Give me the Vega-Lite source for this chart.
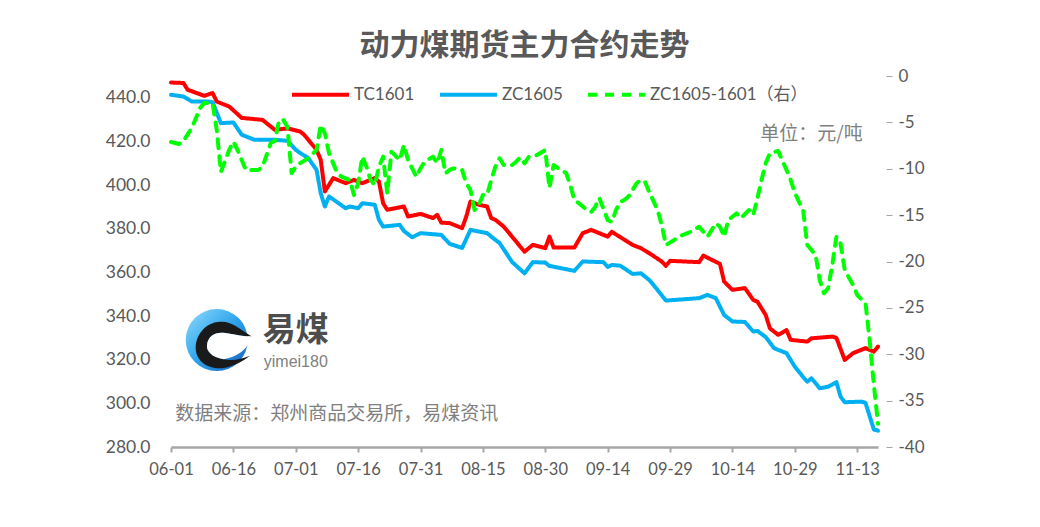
{
  "$schema": "https://vega.github.io/schema/vega-lite/v6.json",
  "width": 707,
  "height": 371,
  "autosize": {"type": "none"},
  "padding": {"left": 171, "top": 76, "right": 162, "bottom": 80},
  "background": "white",
  "config": {
    "view": {"stroke": null},
    "font": "Lato",
    "axis": {"grid": false, "title": null, "labelFont": "Lato", "labelColor": "#595959", "labelFontSize": 17},
    "legend": {"labelFont": "Lato, 'Noto Sans CJK SC'"}
  },
  "title": {
    "text": "动力煤期货主力合约走势",
    "font": "Noto Sans CJK SC",
    "fontSize": 30,
    "fontWeight": "bold",
    "color": "#595959",
    "anchor": "middle",
    "offset": 3
  },
  "datasets": {
    "price": [
      {"date": "2015/06/01", "series": "TC1601", "value": 447.0},
      {"date": "2015/06/04", "series": "TC1601", "value": 446.8},
      {"date": "2015/06/05", "series": "TC1601", "value": 443.7},
      {"date": "2015/06/09", "series": "TC1601", "value": 440.9},
      {"date": "2015/06/11", "series": "TC1601", "value": 442.2},
      {"date": "2015/06/12", "series": "TC1601", "value": 438.3},
      {"date": "2015/06/15", "series": "TC1601", "value": 436.0},
      {"date": "2015/06/18", "series": "TC1601", "value": 430.8},
      {"date": "2015/06/23", "series": "TC1601", "value": 429.9},
      {"date": "2015/06/26", "series": "TC1601", "value": 425.3},
      {"date": "2015/06/29", "series": "TC1601", "value": 426.0},
      {"date": "2015/07/02", "series": "TC1601", "value": 424.6},
      {"date": "2015/07/03", "series": "TC1601", "value": 423.1},
      {"date": "2015/07/06", "series": "TC1601", "value": 416.2},
      {"date": "2015/07/07", "series": "TC1601", "value": 411.6},
      {"date": "2015/07/08", "series": "TC1601", "value": 397.1},
      {"date": "2015/07/10", "series": "TC1601", "value": 403.2},
      {"date": "2015/07/13", "series": "TC1601", "value": 400.9},
      {"date": "2015/07/15", "series": "TC1601", "value": 402.4},
      {"date": "2015/07/17", "series": "TC1601", "value": 400.9},
      {"date": "2015/07/20", "series": "TC1601", "value": 403.2},
      {"date": "2015/07/21", "series": "TC1601", "value": 401.6},
      {"date": "2015/07/22", "series": "TC1601", "value": 391.7},
      {"date": "2015/07/23", "series": "TC1601", "value": 388.7},
      {"date": "2015/07/27", "series": "TC1601", "value": 390.2},
      {"date": "2015/07/28", "series": "TC1601", "value": 385.6},
      {"date": "2015/07/31", "series": "TC1601", "value": 386.8},
      {"date": "2015/08/03", "series": "TC1601", "value": 384.9},
      {"date": "2015/08/04", "series": "TC1601", "value": 386.4},
      {"date": "2015/08/05", "series": "TC1601", "value": 382.8},
      {"date": "2015/08/07", "series": "TC1601", "value": 382.6},
      {"date": "2015/08/10", "series": "TC1601", "value": 380.3},
      {"date": "2015/08/11", "series": "TC1601", "value": 385.6},
      {"date": "2015/08/12", "series": "TC1601", "value": 392.5},
      {"date": "2015/08/14", "series": "TC1601", "value": 391.0},
      {"date": "2015/08/16", "series": "TC1601", "value": 390.2},
      {"date": "2015/08/17", "series": "TC1601", "value": 384.9},
      {"date": "2015/08/18", "series": "TC1601", "value": 384.1},
      {"date": "2015/08/20", "series": "TC1601", "value": 381.0},
      {"date": "2015/08/23", "series": "TC1601", "value": 374.1},
      {"date": "2015/08/25", "series": "TC1601", "value": 369.5},
      {"date": "2015/08/27", "series": "TC1601", "value": 372.6},
      {"date": "2015/08/30", "series": "TC1601", "value": 371.1},
      {"date": "2015/08/31", "series": "TC1601", "value": 376.4},
      {"date": "2015/09/01", "series": "TC1601", "value": 371.4},
      {"date": "2015/09/06", "series": "TC1601", "value": 371.4},
      {"date": "2015/09/08", "series": "TC1601", "value": 378.0},
      {"date": "2015/09/09", "series": "TC1601", "value": 378.7},
      {"date": "2015/09/10", "series": "TC1601", "value": 379.5},
      {"date": "2015/09/14", "series": "TC1601", "value": 376.4},
      {"date": "2015/09/15", "series": "TC1601", "value": 378.6},
      {"date": "2015/09/20", "series": "TC1601", "value": 372.6},
      {"date": "2015/09/22", "series": "TC1601", "value": 371.1},
      {"date": "2015/09/24", "series": "TC1601", "value": 368.8},
      {"date": "2015/09/27", "series": "TC1601", "value": 365.0},
      {"date": "2015/09/28", "series": "TC1601", "value": 363.0},
      {"date": "2015/09/29", "series": "TC1601", "value": 365.3},
      {"date": "2015/10/06", "series": "TC1601", "value": 364.7},
      {"date": "2015/10/07", "series": "TC1601", "value": 367.7},
      {"date": "2015/10/11", "series": "TC1601", "value": 363.9},
      {"date": "2015/10/12", "series": "TC1601", "value": 355.8},
      {"date": "2015/10/14", "series": "TC1601", "value": 352.0},
      {"date": "2015/10/17", "series": "TC1601", "value": 352.8},
      {"date": "2015/10/19", "series": "TC1601", "value": 347.4},
      {"date": "2015/10/20", "series": "TC1601", "value": 346.6},
      {"date": "2015/10/22", "series": "TC1601", "value": 340.5},
      {"date": "2015/10/23", "series": "TC1601", "value": 334.4},
      {"date": "2015/10/25", "series": "TC1601", "value": 331.4},
      {"date": "2015/10/27", "series": "TC1601", "value": 333.6},
      {"date": "2015/10/28", "series": "TC1601", "value": 329.1},
      {"date": "2015/11/01", "series": "TC1601", "value": 328.3},
      {"date": "2015/11/02", "series": "TC1601", "value": 329.8},
      {"date": "2015/11/07", "series": "TC1601", "value": 330.6},
      {"date": "2015/11/08", "series": "TC1601", "value": 330.0},
      {"date": "2015/11/10", "series": "TC1601", "value": 319.9},
      {"date": "2015/11/12", "series": "TC1601", "value": 323.0},
      {"date": "2015/11/15", "series": "TC1601", "value": 325.3},
      {"date": "2015/11/17", "series": "TC1601", "value": 323.7},
      {"date": "2015/11/18", "series": "TC1601", "value": 326.0},
      {"date": "2015/06/01", "series": "ZC1605", "value": 441.4},
      {"date": "2015/06/04", "series": "ZC1605", "value": 440.6},
      {"date": "2015/06/06", "series": "ZC1605", "value": 438.3},
      {"date": "2015/06/10", "series": "ZC1605", "value": 438.3},
      {"date": "2015/06/11", "series": "ZC1605", "value": 438.0},
      {"date": "2015/06/13", "series": "ZC1605", "value": 428.4},
      {"date": "2015/06/16", "series": "ZC1605", "value": 428.7},
      {"date": "2015/06/18", "series": "ZC1605", "value": 423.1},
      {"date": "2015/06/21", "series": "ZC1605", "value": 420.8},
      {"date": "2015/06/26", "series": "ZC1605", "value": 420.8},
      {"date": "2015/06/29", "series": "ZC1605", "value": 420.3},
      {"date": "2015/07/01", "series": "ZC1605", "value": 416.2},
      {"date": "2015/07/02", "series": "ZC1605", "value": 414.8},
      {"date": "2015/07/04", "series": "ZC1605", "value": 412.4},
      {"date": "2015/07/06", "series": "ZC1605", "value": 407.0},
      {"date": "2015/07/07", "series": "ZC1605", "value": 396.3},
      {"date": "2015/07/08", "series": "ZC1605", "value": 390.2},
      {"date": "2015/07/09", "series": "ZC1605", "value": 394.8},
      {"date": "2015/07/13", "series": "ZC1605", "value": 389.4},
      {"date": "2015/07/14", "series": "ZC1605", "value": 390.2},
      {"date": "2015/07/16", "series": "ZC1605", "value": 389.4},
      {"date": "2015/07/17", "series": "ZC1605", "value": 391.7},
      {"date": "2015/07/20", "series": "ZC1605", "value": 391.0},
      {"date": "2015/07/21", "series": "ZC1605", "value": 384.1},
      {"date": "2015/07/22", "series": "ZC1605", "value": 381.0},
      {"date": "2015/07/26", "series": "ZC1605", "value": 381.8},
      {"date": "2015/07/27", "series": "ZC1605", "value": 379.0},
      {"date": "2015/07/29", "series": "ZC1605", "value": 376.1},
      {"date": "2015/07/31", "series": "ZC1605", "value": 378.0},
      {"date": "2015/08/05", "series": "ZC1605", "value": 377.2},
      {"date": "2015/08/07", "series": "ZC1605", "value": 373.1},
      {"date": "2015/08/10", "series": "ZC1605", "value": 371.2},
      {"date": "2015/08/12", "series": "ZC1605", "value": 379.5},
      {"date": "2015/08/16", "series": "ZC1605", "value": 378.0},
      {"date": "2015/08/18", "series": "ZC1605", "value": 374.9},
      {"date": "2015/08/19", "series": "ZC1605", "value": 373.5},
      {"date": "2015/08/22", "series": "ZC1605", "value": 364.8},
      {"date": "2015/08/25", "series": "ZC1605", "value": 359.6},
      {"date": "2015/08/27", "series": "ZC1605", "value": 364.7},
      {"date": "2015/08/30", "series": "ZC1605", "value": 364.5},
      {"date": "2015/08/31", "series": "ZC1605", "value": 363.0},
      {"date": "2015/09/06", "series": "ZC1605", "value": 360.7},
      {"date": "2015/09/08", "series": "ZC1605", "value": 365.0},
      {"date": "2015/09/13", "series": "ZC1605", "value": 364.7},
      {"date": "2015/09/14", "series": "ZC1605", "value": 362.5},
      {"date": "2015/09/15", "series": "ZC1605", "value": 363.4},
      {"date": "2015/09/17", "series": "ZC1605", "value": 363.1},
      {"date": "2015/09/20", "series": "ZC1605", "value": 359.3},
      {"date": "2015/09/22", "series": "ZC1605", "value": 359.6},
      {"date": "2015/09/24", "series": "ZC1605", "value": 356.5},
      {"date": "2015/09/25", "series": "ZC1605", "value": 354.3},
      {"date": "2015/09/28", "series": "ZC1605", "value": 347.1},
      {"date": "2015/10/06", "series": "ZC1605", "value": 348.2},
      {"date": "2015/10/08", "series": "ZC1605", "value": 349.7},
      {"date": "2015/10/10", "series": "ZC1605", "value": 348.2},
      {"date": "2015/10/12", "series": "ZC1605", "value": 340.5},
      {"date": "2015/10/14", "series": "ZC1605", "value": 337.5},
      {"date": "2015/10/17", "series": "ZC1605", "value": 337.3},
      {"date": "2015/10/19", "series": "ZC1605", "value": 332.9},
      {"date": "2015/10/20", "series": "ZC1605", "value": 333.2},
      {"date": "2015/10/22", "series": "ZC1605", "value": 330.4},
      {"date": "2015/10/24", "series": "ZC1605", "value": 325.3},
      {"date": "2015/10/25", "series": "ZC1605", "value": 324.5},
      {"date": "2015/10/27", "series": "ZC1605", "value": 323.0},
      {"date": "2015/10/29", "series": "ZC1605", "value": 316.8},
      {"date": "2015/10/31", "series": "ZC1605", "value": 312.1},
      {"date": "2015/11/01", "series": "ZC1605", "value": 309.9},
      {"date": "2015/11/02", "series": "ZC1605", "value": 311.5},
      {"date": "2015/11/04", "series": "ZC1605", "value": 306.9},
      {"date": "2015/11/06", "series": "ZC1605", "value": 307.6},
      {"date": "2015/11/08", "series": "ZC1605", "value": 309.7},
      {"date": "2015/11/09", "series": "ZC1605", "value": 303.1},
      {"date": "2015/11/10", "series": "ZC1605", "value": 300.5},
      {"date": "2015/11/14", "series": "ZC1605", "value": 300.8},
      {"date": "2015/11/15", "series": "ZC1605", "value": 300.2},
      {"date": "2015/11/17", "series": "ZC1605", "value": 288.0},
      {"date": "2015/11/18", "series": "ZC1605", "value": 287.5}
    ],
    "spread": [
      {"date": "2015/06/01", "series": "ZC1605-1601（右）", "value": -7.12},
      {"date": "2015/06/03", "series": "ZC1605-1601（右）", "value": -7.33},
      {"date": "2015/06/04", "series": "ZC1605-1601（右）", "value": -7.01},
      {"date": "2015/06/06", "series": "ZC1605-1601（右）", "value": -5.61},
      {"date": "2015/06/08", "series": "ZC1605-1601（右）", "value": -3.45},
      {"date": "2015/06/09", "series": "ZC1605-1601（右）", "value": -2.91},
      {"date": "2015/06/11", "series": "ZC1605-1601（右）", "value": -2.94},
      {"date": "2015/06/12", "series": "ZC1605-1601（右）", "value": -5.82},
      {"date": "2015/06/13", "series": "ZC1605-1601（右）", "value": -10.35},
      {"date": "2015/06/15", "series": "ZC1605-1601（右）", "value": -7.98},
      {"date": "2015/06/16", "series": "ZC1605-1601（右）", "value": -7.08},
      {"date": "2015/06/17", "series": "ZC1605-1601（右）", "value": -7.98},
      {"date": "2015/06/19", "series": "ZC1605-1601（右）", "value": -10.13},
      {"date": "2015/06/22", "series": "ZC1605-1601（右）", "value": -10.13},
      {"date": "2015/06/23", "series": "ZC1605-1601（右）", "value": -9.81},
      {"date": "2015/06/25", "series": "ZC1605-1601（右）", "value": -7.22},
      {"date": "2015/06/26", "series": "ZC1605-1601（右）", "value": -7.01},
      {"date": "2015/06/27", "series": "ZC1605-1601（右）", "value": -4.74},
      {"date": "2015/06/28", "series": "ZC1605-1601（右）", "value": -4.74},
      {"date": "2015/06/29", "series": "ZC1605-1601（右）", "value": -5.47},
      {"date": "2015/06/30", "series": "ZC1605-1601（右）", "value": -10.49},
      {"date": "2015/07/01", "series": "ZC1605-1601（右）", "value": -9.78},
      {"date": "2015/07/02", "series": "ZC1605-1601（右）", "value": -9.41},
      {"date": "2015/07/04", "series": "ZC1605-1601（右）", "value": -8.87},
      {"date": "2015/07/06", "series": "ZC1605-1601（右）", "value": -7.98},
      {"date": "2015/07/07", "series": "ZC1605-1601（右）", "value": -5.28},
      {"date": "2015/07/08", "series": "ZC1605-1601（右）", "value": -6.18},
      {"date": "2015/07/09", "series": "ZC1605-1601（右）", "value": -8.33},
      {"date": "2015/07/11", "series": "ZC1605-1601（右）", "value": -10.49},
      {"date": "2015/07/12", "series": "ZC1605-1601（右）", "value": -10.86},
      {"date": "2015/07/14", "series": "ZC1605-1601（右）", "value": -11.21},
      {"date": "2015/07/15", "series": "ZC1605-1601（右）", "value": -12.83},
      {"date": "2015/07/16", "series": "ZC1605-1601（右）", "value": -11.57},
      {"date": "2015/07/17", "series": "ZC1605-1601（右）", "value": -8.70},
      {"date": "2015/07/18", "series": "ZC1605-1601（右）", "value": -9.78},
      {"date": "2015/07/19", "series": "ZC1605-1601（右）", "value": -11.21},
      {"date": "2015/07/20", "series": "ZC1605-1601（右）", "value": -11.75},
      {"date": "2015/07/21", "series": "ZC1605-1601（右）", "value": -9.78},
      {"date": "2015/07/22", "series": "ZC1605-1601（右）", "value": -8.70},
      {"date": "2015/07/23", "series": "ZC1605-1601（右）", "value": -12.65},
      {"date": "2015/07/24", "series": "ZC1605-1601（右）", "value": -8.16},
      {"date": "2015/07/26", "series": "ZC1605-1601（右）", "value": -9.06},
      {"date": "2015/07/27", "series": "ZC1605-1601（右）", "value": -7.44},
      {"date": "2015/07/28", "series": "ZC1605-1601（右）", "value": -9.06},
      {"date": "2015/07/30", "series": "ZC1605-1601（右）", "value": -10.86},
      {"date": "2015/07/31", "series": "ZC1605-1601（右）", "value": -9.95},
      {"date": "2015/08/01", "series": "ZC1605-1601（右）", "value": -9.24},
      {"date": "2015/08/03", "series": "ZC1605-1601（右）", "value": -8.70},
      {"date": "2015/08/04", "series": "ZC1605-1601（右）", "value": -9.41},
      {"date": "2015/08/05", "series": "ZC1605-1601（右）", "value": -7.98},
      {"date": "2015/08/06", "series": "ZC1605-1601（右）", "value": -10.49},
      {"date": "2015/08/07", "series": "ZC1605-1601（右）", "value": -10.13},
      {"date": "2015/08/08", "series": "ZC1605-1601（右）", "value": -9.95},
      {"date": "2015/08/10", "series": "ZC1605-1601（右）", "value": -10.13},
      {"date": "2015/08/11", "series": "ZC1605-1601（右）", "value": -11.57},
      {"date": "2015/08/12", "series": "ZC1605-1601（右）", "value": -12.29},
      {"date": "2015/08/13", "series": "ZC1605-1601（右）", "value": -14.45},
      {"date": "2015/08/14", "series": "ZC1605-1601（右）", "value": -13.91},
      {"date": "2015/08/15", "series": "ZC1605-1601（右）", "value": -12.83},
      {"date": "2015/08/16", "series": "ZC1605-1601（右）", "value": -12.83},
      {"date": "2015/08/17", "series": "ZC1605-1601（右）", "value": -11.21},
      {"date": "2015/08/18", "series": "ZC1605-1601（右）", "value": -9.78},
      {"date": "2015/08/19", "series": "ZC1605-1601（右）", "value": -8.87},
      {"date": "2015/08/20", "series": "ZC1605-1601（右）", "value": -9.60},
      {"date": "2015/08/22", "series": "ZC1605-1601（右）", "value": -9.60},
      {"date": "2015/08/23", "series": "ZC1605-1601（右）", "value": -9.24},
      {"date": "2015/08/24", "series": "ZC1605-1601（右）", "value": -8.77},
      {"date": "2015/08/25", "series": "ZC1605-1601（右）", "value": -9.41},
      {"date": "2015/08/26", "series": "ZC1605-1601（右）", "value": -8.73},
      {"date": "2015/08/28", "series": "ZC1605-1601（右）", "value": -8.52},
      {"date": "2015/08/30", "series": "ZC1605-1601（右）", "value": -7.98},
      {"date": "2015/08/31", "series": "ZC1605-1601（右）", "value": -12.08},
      {"date": "2015/09/01", "series": "ZC1605-1601（右）", "value": -9.60},
      {"date": "2015/09/02", "series": "ZC1605-1601（右）", "value": -9.92},
      {"date": "2015/09/04", "series": "ZC1605-1601（右）", "value": -10.46},
      {"date": "2015/09/05", "series": "ZC1605-1601（右）", "value": -11.75},
      {"date": "2015/09/06", "series": "ZC1605-1601（右）", "value": -13.37},
      {"date": "2015/09/07", "series": "ZC1605-1601（右）", "value": -13.69},
      {"date": "2015/09/09", "series": "ZC1605-1601（右）", "value": -14.45},
      {"date": "2015/09/10", "series": "ZC1605-1601（右）", "value": -14.66},
      {"date": "2015/09/11", "series": "ZC1605-1601（右）", "value": -14.12},
      {"date": "2015/09/12", "series": "ZC1605-1601（右）", "value": -13.15},
      {"date": "2015/09/14", "series": "ZC1605-1601（右）", "value": -15.53},
      {"date": "2015/09/15", "series": "ZC1605-1601（右）", "value": -15.74},
      {"date": "2015/09/16", "series": "ZC1605-1601（右）", "value": -14.45},
      {"date": "2015/09/17", "series": "ZC1605-1601（右）", "value": -13.58},
      {"date": "2015/09/18", "series": "ZC1605-1601（右）", "value": -13.37},
      {"date": "2015/09/19", "series": "ZC1605-1601（右）", "value": -13.01},
      {"date": "2015/09/21", "series": "ZC1605-1601（右）", "value": -11.54},
      {"date": "2015/09/22", "series": "ZC1605-1601（右）", "value": -11.21},
      {"date": "2015/09/23", "series": "ZC1605-1601（右）", "value": -11.43},
      {"date": "2015/09/24", "series": "ZC1605-1601（右）", "value": -12.51},
      {"date": "2015/09/26", "series": "ZC1605-1601（右）", "value": -14.45},
      {"date": "2015/09/27", "series": "ZC1605-1601（右）", "value": -16.06},
      {"date": "2015/09/28", "series": "ZC1605-1601（右）", "value": -18.22},
      {"date": "2015/09/30", "series": "ZC1605-1601（右）", "value": -17.68},
      {"date": "2015/10/01", "series": "ZC1605-1601（右）", "value": -17.33},
      {"date": "2015/10/04", "series": "ZC1605-1601（右）", "value": -16.79},
      {"date": "2015/10/06", "series": "ZC1605-1601（右）", "value": -16.25},
      {"date": "2015/10/07", "series": "ZC1605-1601（右）", "value": -16.79},
      {"date": "2015/10/08", "series": "ZC1605-1601（右）", "value": -17.33},
      {"date": "2015/10/10", "series": "ZC1605-1601（右）", "value": -15.88},
      {"date": "2015/10/11", "series": "ZC1605-1601（右）", "value": -16.25},
      {"date": "2015/10/12", "series": "ZC1605-1601（右）", "value": -17.33},
      {"date": "2015/10/13", "series": "ZC1605-1601（右）", "value": -15.53},
      {"date": "2015/10/15", "series": "ZC1605-1601（右）", "value": -14.80},
      {"date": "2015/10/16", "series": "ZC1605-1601（右）", "value": -15.34},
      {"date": "2015/10/18", "series": "ZC1605-1601（右）", "value": -14.45},
      {"date": "2015/10/19", "series": "ZC1605-1601（右）", "value": -14.99},
      {"date": "2015/10/20", "series": "ZC1605-1601（右）", "value": -13.19},
      {"date": "2015/10/21", "series": "ZC1605-1601（右）", "value": -11.21},
      {"date": "2015/10/22", "series": "ZC1605-1601（右）", "value": -9.41},
      {"date": "2015/10/23", "series": "ZC1605-1601（右）", "value": -8.33},
      {"date": "2015/10/25", "series": "ZC1605-1601（右）", "value": -8.09},
      {"date": "2015/10/27", "series": "ZC1605-1601（右）", "value": -10.13},
      {"date": "2015/10/28", "series": "ZC1605-1601（右）", "value": -11.21},
      {"date": "2015/10/29", "series": "ZC1605-1601（右）", "value": -12.61},
      {"date": "2015/10/31", "series": "ZC1605-1601（右）", "value": -14.50},
      {"date": "2015/11/01", "series": "ZC1605-1601（右）", "value": -18.22},
      {"date": "2015/11/03", "series": "ZC1605-1601（右）", "value": -19.30},
      {"date": "2015/11/04", "series": "ZC1605-1601（右）", "value": -22.00},
      {"date": "2015/11/05", "series": "ZC1605-1601（右）", "value": -23.43},
      {"date": "2015/11/06", "series": "ZC1605-1601（右）", "value": -22.89},
      {"date": "2015/11/07", "series": "ZC1605-1601（右）", "value": -20.38},
      {"date": "2015/11/08", "series": "ZC1605-1601（右）", "value": -17.33},
      {"date": "2015/11/09", "series": "ZC1605-1601（右）", "value": -18.04},
      {"date": "2015/11/10", "series": "ZC1605-1601（右）", "value": -20.92},
      {"date": "2015/11/12", "series": "ZC1605-1601（右）", "value": -22.53},
      {"date": "2015/11/13", "series": "ZC1605-1601（右）", "value": -23.61},
      {"date": "2015/11/15", "series": "ZC1605-1601（右）", "value": -24.51},
      {"date": "2015/11/16", "series": "ZC1605-1601（右）", "value": -28.50},
      {"date": "2015/11/17", "series": "ZC1605-1601（右）", "value": -33.30},
      {"date": "2015/11/18", "series": "ZC1605-1601（右）", "value": -37.50}
    ]
  },
  "layer": [
    {
      "layer": [
        {
          "data": {"name": "price"},
          "mark": {"type": "line", "strokeWidth": 4, "strokeCap": "round", "strokeJoin": "round"},
          "encoding": {
            "x": {
              "field": "date", "type": "temporal",
              "scale": {"domain": [{"year": 2015, "month": 6, "date": 1}, {"year": 2015, "month": 11, "date": 18}]},
              "axis": {
                "values": [
                  {"year": 2015, "month": 6, "date": 1}, {"year": 2015, "month": 6, "date": 16},
                  {"year": 2015, "month": 7, "date": 1}, {"year": 2015, "month": 7, "date": 16},
                  {"year": 2015, "month": 7, "date": 31}, {"year": 2015, "month": 8, "date": 15},
                  {"year": 2015, "month": 8, "date": 30}, {"year": 2015, "month": 9, "date": 14},
                  {"year": 2015, "month": 9, "date": 29}, {"year": 2015, "month": 10, "date": 14},
                  {"year": 2015, "month": 10, "date": 29}, {"year": 2015, "month": 11, "date": 13}
                ],
                "format": "%m-%d",
                "title": null,
                "domainColor": "#A6A6A6",
                "domainWidth": 2.5,
                "tickColor": "#A6A6A6",
                "tickWidth": 2,
                "tickSize": 5,
                "labelPadding": 9,
                "labelFontSize": 16.5,
                "labelFlush": false,
                "labelOverlap": false
              }
            },
            "y": {
              "field": "value", "type": "quantitative",
              "scale": {"domain": [280, 450], "nice": false, "zero": false},
              "axis": {
                "orient": "left",
                "values": [280, 300, 320, 340, 360, 380, 400, 420, 440],
                "format": ".1f",
                "title": null,
                "domain": false,
                "ticks": false,
                "labelPadding": 21,
                "labelFontSize": 17.5
              }
            },
            "color": {
              "field": "series", "type": "nominal",
              "scale": {"domain": ["TC1601", "ZC1605", "ZC1605-1601（右）"], "range": ["#FF0000", "#00B0F0", "#00FF00"]},
              "legend": {
                "orient": "none",
                "legendX": 119,
                "legendY": -12,
                "direction": "horizontal",
                "title": null,
                "symbolType": "stroke",
                "symbolSize": 3249,
                "symbolStrokeWidth": 4,
                "labelFontSize": 17,
                "labelColor": "#595959",
                "labelOffset": 3,
                "columnPadding": 17,
                "padding": 0,
                "labelLimit": 400
              }
            },
            "strokeDash": {
              "field": "series", "type": "nominal",
              "scale": {"domain": ["TC1601", "ZC1605", "ZC1605-1601（右）"], "range": [[1, 0], [1, 0], [9, 8]]},
              "legend": {
                "orient": "none",
                "legendX": 119,
                "legendY": -12,
                "direction": "horizontal",
                "title": null
              }
            }
          }
        },
        {
          "data": {"values": [{}]},
          "mark": {"type": "point", "shape": "circle", "filled": true, "size": 3850, "strokeWidth": 0, "opacity": 1,
            "fill": {"gradient": "linear", "x1": 0, "y1": 0, "x2": 1, "y2": 1,
              "stops": [{"offset": 0, "color": "#8fdcff"}, {"offset": 0.5, "color": "#2ea3ea"}, {"offset": 1, "color": "#1560c0"}]}},
          "encoding": {
            "x": {"datum": {"year": 2015, "month": 6, "date": 12}, "type": "temporal"},
            "y": {"datum": 329, "type": "quantitative"}
          }
        },
        {
          "data": {"values": [{}]},
          "mark": {"type": "point", "filled": true, "size": 4900, "strokeWidth": 0, "opacity": 1, "fill": "#1a1a1a",
            "shape": "M 1.0 -0.1 C 0.6 -0.35 0.4 -0.55 0.1 -0.52 C -0.35 -0.5 -0.62 -0.1 -0.6 0.25 C -0.58 0.65 -0.2 0.85 0.2 0.8 C 0.5 0.75 0.75 0.6 0.95 0.45 C 0.7 0.55 0.45 0.6 0.2 0.55 C -0.15 0.5 -0.3 0.3 -0.28 0.15 C -0.25 -0.15 0 -0.25 0.25 -0.2 C 0.55 -0.15 0.8 -0.1 1.0 -0.1 Z"},
          "encoding": {
            "x": {"datum": {"year": 2015, "month": 6, "date": 12}, "type": "temporal"},
            "y": {"datum": 329, "type": "quantitative"}
          }
        },
        {
          "data": {"values": [{}]},
          "mark": {"type": "point", "filled": true, "size": 4900, "strokeWidth": 0, "opacity": 1, "fill": "#ffffff",
            "shape": "M 0.2 0.55 C -0.15 0.5 -0.3 0.3 -0.28 0.15 C -0.25 -0.15 0 -0.25 0.25 -0.2 C 0.55 -0.15 0.8 -0.1 1.0 -0.1 C 0.9 0.2 0.7 0.45 0.2 0.55 Z"},
          "encoding": {
            "x": {"datum": {"year": 2015, "month": 6, "date": 12}, "type": "temporal"},
            "y": {"datum": 329, "type": "quantitative"}
          }
        },
        {
          "data": {"values": [{}]},
          "mark": {"type": "text", "text": "易煤", "font": "Noto Sans CJK SC", "fontWeight": "bold", "fontSize": 33, "color": "#4d4d4d", "align": "center", "baseline": "middle"},
          "encoding": {
            "x": {"datum": {"year": 2015, "month": 7, "date": 1}, "type": "temporal"},
            "y": {"datum": 333.0, "type": "quantitative"}
          }
        },
        {
          "data": {"values": [{}]},
          "mark": {"type": "text", "text": "yimei180", "font": "Liberation Sans", "fontSize": 16, "color": "#808080", "align": "center", "baseline": "middle"},
          "encoding": {
            "x": {"datum": {"year": 2015, "month": 7, "date": 1}, "type": "temporal"},
            "y": {"datum": 319.0, "type": "quantitative"}
          }
        },
        {
          "data": {"values": [{}]},
          "mark": {"type": "text", "text": "数据来源：郑州商品交易所，易煤资讯", "font": "Noto Sans CJK SC", "fontSize": 19, "color": "#808080", "align": "left", "baseline": "middle"},
          "encoding": {
            "x": {"datum": {"year": 2015, "month": 6, "date": 2}, "type": "temporal"},
            "y": {"datum": 295.0, "type": "quantitative"}
          }
        },
        {
          "data": {"values": [{}]},
          "mark": {"type": "text", "text": "单位：元/吨", "font": "Noto Sans CJK SC", "fontSize": 19, "color": "#808080", "align": "center", "baseline": "middle"},
          "encoding": {
            "x": {"datum": {"year": 2015, "month": 11, "date": 2}, "type": "temporal"},
            "y": {"datum": 423.5, "type": "quantitative"}
          }
        }
      ]
    },
    {
      "data": {"name": "spread"},
      "mark": {"type": "line", "strokeWidth": 4, "strokeCap": "round", "strokeJoin": "round"},
      "encoding": {
        "x": {"field": "date", "type": "temporal"},
        "y": {
          "field": "value", "type": "quantitative",
          "scale": {"domain": [-40, 0], "nice": false, "zero": false},
          "axis": {
            "orient": "right",
            "values": [0, -5, -10, -15, -20, -25, -30, -35, -40],
            "labelExpr": "'' + datum.value",
            "title": null,
            "domain": false,
            "ticks": true,
            "tickSize": 6,
            "tickColor": "#A6A6A6",
            "offset": 8,
            "labelPadding": 6,
            "labelFontSize": 17
          }
        },
        "color": {"field": "series", "type": "nominal"},
        "strokeDash": {"field": "series", "type": "nominal"}
      }
    }
  ],
  "resolve": {"scale": {"y": "independent"}}
}
